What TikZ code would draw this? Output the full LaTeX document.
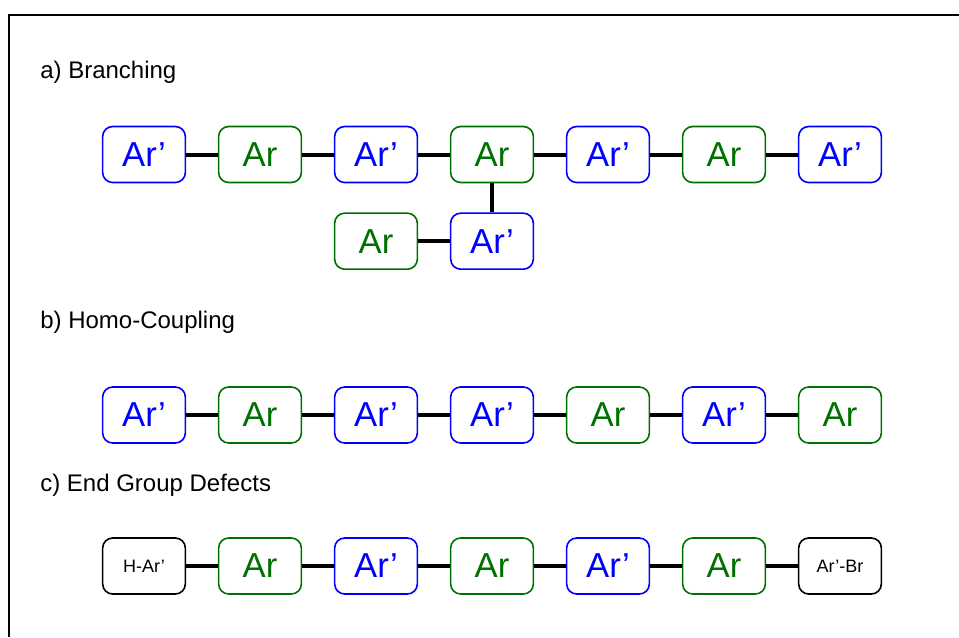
\documentclass[tikz,border=0pt]{standalone}
\usepackage{fontspec}
\setmainfont{Liberation Sans}
\usepackage{xcolor}
\usetikzlibrary{positioning}
\definecolor{arblue}{RGB}{0,0,255}
\definecolor{argreen}{RGB}{0,112,0}

\begin{document}
\begin{tikzpicture}[x=0.75pt,y=-0.75pt,node distance=21.8pt and 23.8pt,
 unit/.style={draw,line width=1.2pt,rounded corners=7.5pt,minimum width=62pt,minimum height=42pt,inner sep=0pt,font=\fontsize{26}{30}\selectfont},
 arp/.style={unit,draw=arblue,text=arblue},
 ar/.style={unit,draw=argreen,text=argreen},
 endg/.style={unit,draw=black,font=\fontsize{13.5}{16}\selectfont},
 bond/.style={line width=3pt},
 lab/.style={anchor=west,inner sep=0pt,font=\fontsize{18}{21}\selectfont}]
\useasboundingbox (0,0) rectangle (959,637);
\draw[line width=1.5pt] (959,15) -- (9,15) -- (9,637);
% a) branching
\node[lab] (laba) at (40,72) {a) Branching};
\node[arp] (a1) at (144,154.5) {Ar'};
\node[ar,right=of a1] (a2) {Ar};
\node[arp,right=of a2] (a3) {Ar'};
\node[ar,right=of a3] (a4) {Ar};
\node[arp,right=of a4] (a5) {Ar'};
\node[ar,right=of a5] (a6) {Ar};
\node[arp,right=of a6] (a7) {Ar'};
\node[arp,below=of a4] (a9) {Ar'};
\node[ar,left=of a9] (a8) {Ar};
\draw[bond] (a1)--(a2);
\draw[bond] (a2)--(a3);
\draw[bond] (a3)--(a4);
\draw[bond] (a4)--(a5);
\draw[bond] (a5)--(a6);
\draw[bond] (a6)--(a7);
\draw[bond] (a4)--(a9);
\draw[bond] (a8)--(a9);
% b) homo-coupling
\node[lab] (labb) at (40,322) {b) Homo-Coupling};
\node[arp] (b1) at (144,415) {Ar'};
\node[ar,right=of b1] (b2) {Ar};
\node[arp,right=of b2] (b3) {Ar'};
\node[arp,right=of b3] (b4) {Ar'};
\node[ar,right=of b4] (b5) {Ar};
\node[arp,right=of b5] (b6) {Ar'};
\node[ar,right=of b6] (b7) {Ar};
\draw[bond] (b1)--(b2);
\draw[bond] (b2)--(b3);
\draw[bond] (b3)--(b4);
\draw[bond] (b4)--(b5);
\draw[bond] (b5)--(b6);
\draw[bond] (b6)--(b7);
% c) end group defects
\node[lab] (labc) at (40,485) {c) End Group Defects};
\node[endg] (c1) at (144,566) {H-Ar'};
\node[ar,right=of c1] (c2) {Ar};
\node[arp,right=of c2] (c3) {Ar'};
\node[ar,right=of c3] (c4) {Ar};
\node[arp,right=of c4] (c5) {Ar'};
\node[ar,right=of c5] (c6) {Ar};
\node[endg,right=of c6] (c7) {Ar'-Br};
\draw[bond] (c1)--(c2);
\draw[bond] (c2)--(c3);
\draw[bond] (c3)--(c4);
\draw[bond] (c4)--(c5);
\draw[bond] (c5)--(c6);
\draw[bond] (c6)--(c7);
\end{tikzpicture}
\end{document}
